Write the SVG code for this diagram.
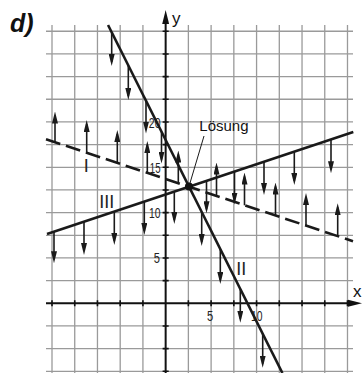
<svg xmlns="http://www.w3.org/2000/svg" width="362" height="373" viewBox="0 0 362 373">
<style>
.grid{stroke:#9a9a9a;stroke-width:1.3;fill:none}
.axis{stroke:#111;stroke-width:2;fill:none}
.tick{stroke:#111;stroke-width:1.6}
.ln{stroke:#1a1a1a;stroke-width:2.6;fill:none;stroke-linecap:butt}
.dash{stroke-dasharray:15 6}
.arr{stroke:#1a1a1a;stroke-width:1.6;marker-end:url(#ah)}
.num{font-family:"Liberation Sans",Arial,sans-serif;font-size:15px;fill:#222}
.rom{font-family:"Liberation Sans",Arial,sans-serif;font-size:18px;fill:#222;text-anchor:middle}
.lbl{font-family:"Liberation Sans",Arial,sans-serif;fill:#111}
</style>
<defs>
<marker id="ah" viewBox="0 0 12 6" refX="8" refY="3" markerWidth="12" markerHeight="6" markerUnits="userSpaceOnUse" orient="auto">
<path d="M0,0 L12,3 L0,6 z" fill="#1a1a1a"/>
</marker>
</defs>
<rect width="362" height="373" fill="#fff"/>
<g id="grid" class="grid">
<path d="M52,25V373M74.73,25V373M97.46,25V373M120.19,25V373M142.92,25V373M188.38,25V373M211.11,25V373M233.84,25V373M256.57,25V373M279.3,25V373M302.03,25V373M324.76,25V373M347.49,25V373"/>
<path d="M46,31.26H353M46,53.93H353M46,76.6H353M46,99.27H353M46,121.94H353M46,144.61H353M46,167.28H353M46,189.95H353M46,212.62H353M46,235.29H353M46,257.96H353M46,280.63H353M46,325.97H353M46,348.64H353M46,371.31H353"/>
</g>
<g id="axes">
<line class="axis" x1="46" y1="303.3" x2="350" y2="303.3"/>
<polygon points="362,303.3 348,299.8 348,306.8" fill="#111"/>
<line class="axis" x1="165.65" y1="373" x2="165.65" y2="22"/>
<polygon points="165.65,10 162.2,24 169.1,24" fill="#111"/>
<path class="tick" d="M162.6,31.26H168.7M162.6,53.93H168.7M162.6,76.6H168.7M162.6,99.27H168.7M162.6,121.94H168.7M162.6,144.61H168.7M162.6,167.28H168.7M162.6,189.95H168.7M162.6,212.62H168.7M162.6,235.29H168.7M162.6,257.96H168.7M162.6,280.63H168.7M162.6,325.97H168.7M162.6,348.64H168.7M162.6,371.31H168.7"/>
<path class="tick" d="M52,300.3V306.3M74.73,300.3V306.3M97.46,300.3V306.3M120.19,300.3V306.3M142.92,300.3V306.3M188.38,300.3V306.3M211.11,300.3V306.3M233.84,300.3V306.3M256.57,300.3V306.3M279.3,300.3V306.3M302.03,300.3V306.3M324.76,300.3V306.3M347.49,300.3V306.3"/>
<text class="lbl" x="172" y="24" font-size="17">y</text>
<text class="lbl" x="353" y="296.7" font-size="17">x</text>
<text class="num" x="160.5" y="127.5" text-anchor="end" textLength="11.7" lengthAdjust="spacingAndGlyphs">20</text>
<text class="num" x="160.5" y="172.8" text-anchor="end" textLength="10.7" lengthAdjust="spacingAndGlyphs">15</text>
<text class="num" x="160.5" y="218" text-anchor="end" textLength="11.5" lengthAdjust="spacingAndGlyphs">10</text>
<text class="num" x="160" y="263.3" text-anchor="end" textLength="6.2" lengthAdjust="spacingAndGlyphs">5</text>
<text class="num" x="207" y="320.5" font-size="13" textLength="6.2" lengthAdjust="spacingAndGlyphs">5</text>
<text class="num" x="251" y="320.5" font-size="13" textLength="11.5" lengthAdjust="spacingAndGlyphs">10</text>
</g>
<g id="title">
<text class="lbl" x="10" y="31.5" font-size="25" font-weight="bold" font-style="italic">d)</text>
</g>
<g id="connectors">
<g id="line-I">
<line class="ln dash" x1="46" y1="139.2" x2="353" y2="241.2"/>
<line class="arr" x1="55" y1="142.2" x2="55" y2="115.5"/>
<line class="arr" x1="86.7" y1="152.8" x2="86.7" y2="124"/>
<line class="arr" x1="117.3" y1="162.9" x2="117.3" y2="134"/>
<line class="arr" x1="147.3" y1="172.9" x2="147.3" y2="145"/>
<line class="arr" x1="178.3" y1="183.2" x2="178.3" y2="154.5"/>
<line class="arr" x1="216.5" y1="195.9" x2="216.5" y2="166.5"/>
<line class="arr" x1="244.5" y1="205.3" x2="244.5" y2="176.5"/>
<line class="arr" x1="275.5" y1="215.6" x2="275.5" y2="186.5"/>
<line class="arr" x1="306" y1="225.7" x2="306" y2="197"/>
<line class="arr" x1="337.7" y1="236.2" x2="337.7" y2="207.3"/>
<text class="rom" x="86.2" y="171.7">I</text>
</g>
<g id="line-II">
<line class="ln" x1="108.05" y1="25" x2="282.4" y2="373"/>
<line class="arr" x1="111.7" y1="32.3" x2="111.7" y2="62"/>
<line class="arr" x1="128.3" y1="65.4" x2="128.3" y2="96"/>
<line class="arr" x1="146" y1="100.7" x2="146" y2="129.5"/>
<line class="arr" x1="161.5" y1="131.7" x2="161.5" y2="159.5"/>
<line class="arr" x1="201.7" y1="211.9" x2="201.7" y2="242"/>
<line class="arr" x1="220.3" y1="249" x2="220.3" y2="280"/>
<line class="arr" x1="240.3" y1="288.9" x2="240.3" y2="318.7"/>
<line class="arr" x1="262.7" y1="333.6" x2="262.7" y2="363.7"/>
<text class="rom" x="241.3" y="275.3">II</text>
</g>
<g id="line-III">
<line class="ln" x1="47" y1="233.9" x2="353.3" y2="132.1"/>
<line class="arr" x1="54" y1="231.6" x2="54" y2="259.3"/>
<line class="arr" x1="84" y1="221.6" x2="84" y2="251"/>
<line class="arr" x1="114.3" y1="211.6" x2="114.3" y2="241"/>
<line class="arr" x1="144.3" y1="201.6" x2="144.3" y2="231"/>
<line class="arr" x1="174.3" y1="191.6" x2="174.3" y2="220"/>
<line class="arr" x1="206.5" y1="180.9" x2="206.5" y2="209.3"/>
<line class="arr" x1="234.5" y1="171.6" x2="234.5" y2="200.5"/>
<line class="arr" x1="264" y1="161.8" x2="264" y2="191"/>
<line class="arr" x1="294.3" y1="151.7" x2="294.3" y2="181"/>
<line class="arr" x1="331" y1="139.5" x2="331" y2="169.3"/>
<text class="rom" x="106.7" y="207.7">III</text>
</g>
<line x1="204" y1="136" x2="190" y2="183" stroke="#1a1a1a" stroke-width="1"/>
</g>
<g id="solution">
<circle cx="189" cy="186.6" r="4" fill="#111"/>
<text class="lbl" x="199.3" y="130.5" font-size="15">Lösung</text>
</g>
</svg>
